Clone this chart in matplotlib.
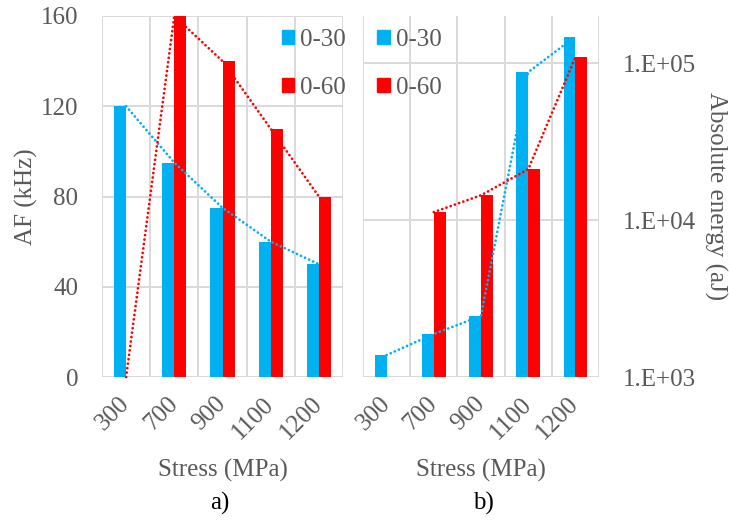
import numpy as np
import matplotlib
matplotlib.use("Agg")
import matplotlib.pyplot as plt
from matplotlib.patches import Patch
from matplotlib.ticker import FixedLocator, FuncFormatter, NullLocator

plt.rcParams["font.family"] = ["Liberation Serif", "DejaVu Serif"]

stress = ["300", "700", "900", "1100", "1200"]
series = ["0-30", "0-60"]
af_0_30 = [120, 95, 75, 60, 50]
af_0_60 = [0, 160, 140, 110, 80]
energy_0_30 = [1380, 1880, 2450, 87700, 148000]
energy_0_60 = [np.nan, 11250, 14400, 21100, 109000]

BLUE = "#00B0F0"
RED = "#FF0000"
GRID = "#D9D9D9"
TXT = "#595959"
FS = 18


def style_axes(ax):
    x = np.arange(len(stress))
    ax.set_xlim(-0.5, len(stress) - 0.5)
    ax.set_xticks(x)
    ax.set_xticklabels(stress, rotation=45, ha="right", va="center",
                       rotation_mode="anchor", color=TXT, fontsize=FS)
    ax.set_xticks(np.arange(len(stress) + 1) - 0.5, minor=True)
    ax.tick_params(axis="both", which="both", length=0)
    ax.tick_params(axis="x", which="major", pad=17)
    ax.tick_params(axis="y", pad=17, labelcolor=TXT, labelsize=FS)
    ax.grid(which="minor", axis="x", color=GRID, lw=1.4)
    ax.grid(which="major", axis="y", color=GRID, lw=1.4)
    ax.set_axisbelow(True)
    for s in ax.spines.values():
        s.set_visible(False)
    ax.set_xlabel("Stress (MPa)", color=TXT, fontsize=FS, labelpad=11)


def draw_bars(ax, blue, red):
    x = np.arange(len(stress))
    ax.bar(x - 0.125, blue, width=0.25, color=BLUE, zorder=2)
    ax.bar(x + 0.125, red, width=0.25, color=RED, zorder=2)
    # round dotted trend lines through the category centres
    ls = (0, (0.01, 1.6))
    ax.plot(x, blue, color=BLUE, lw=2.0, ls=ls, dash_capstyle="round",
            zorder=3, clip_on=False)
    ax.plot(x, red, color=RED, lw=2.0, ls=ls, dash_capstyle="round",
            zorder=3, clip_on=False)


def add_legend(ax, xa):
    handles = [Patch(color=BLUE), Patch(color=RED)]
    leg = ax.legend(handles, series, loc="upper left", bbox_to_anchor=(xa, 0.965),
                    frameon=False, fontsize=FS, handlelength=0.5, handleheight=0.5,
                    handletextpad=0.25, labelspacing=1.05, borderpad=0,
                    borderaxespad=0)
    for t in leg.get_texts():
        t.set_color(TXT)


fig = plt.figure(figsize=(7.29, 5.2), dpi=100)
ax1 = fig.add_axes([102 / 729, 143 / 520, 241 / 729, 361 / 520])
ax2 = fig.add_axes([363 / 729, 143 / 520, 236 / 729, 361 / 520])

# a) AF
draw_bars(ax1, af_0_30, af_0_60)
ax1.set_ylim(0, 160)
ax1.set_yticks([0, 40, 80, 120, 160])
style_axes(ax1)
ax1.set_ylabel("AF (kHz)", color=TXT, fontsize=FS)
ax1.yaxis.set_label_coords((26 - 102) / 241, 0.5)
ax1.yaxis.label.set_va("center")
add_legend(ax1, 0.745)

# b) absolute energy
ax2.set_yscale("log")
draw_bars(ax2, energy_0_30, energy_0_60)
ax2.set_ylim(1e3, 2e5)
ax2.yaxis.set_major_locator(FixedLocator([1e3, 1e4, 1e5]))
ax2.yaxis.set_minor_locator(NullLocator())
ax2.yaxis.set_major_formatter(FuncFormatter(lambda v, p: "1.E+%02d" % round(np.log10(v))))
ax2.yaxis.tick_right()
style_axes(ax2)
ax2.yaxis.set_label_position("right")
ax2.set_ylabel("Absolute energy (aJ)", color=TXT, fontsize=FS, rotation=270)
ax2.yaxis.set_label_coords((716 - 363) / 236, 0.5)
ax2.yaxis.label.set_va("center")
ax2.yaxis.label.set_ha("center")
add_legend(ax2, 0.06)

fig.text(220 / 729, 1 - 503 / 520, "a)", fontsize=FS, ha="center", va="center")
fig.text(483 / 729, 1 - 503 / 520, "b)", fontsize=FS, ha="center", va="center")

fig.savefig("out.png", dpi=100)
